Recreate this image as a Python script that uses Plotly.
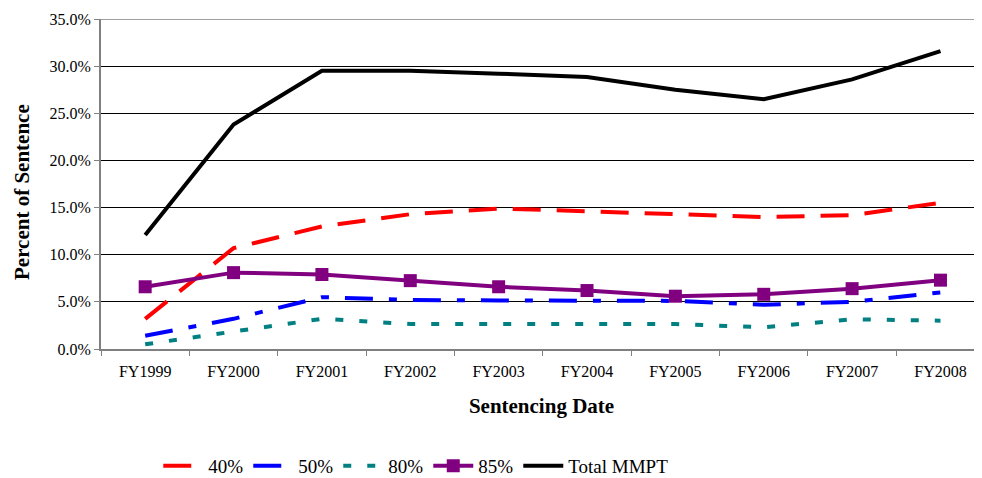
import plotly.graph_objects as go

years = ["FY1999", "FY2000", "FY2001", "FY2002", "FY2003", "FY2004", "FY2005", "FY2006", "FY2007", "FY2008"]
tick_labels = ["FY1999", "FY2000", "FY2001", "FY2002", "FY2003", "FY2004", "FY2005", "FY2006", "FY2007", "FY2008"]
pct40 = [0.032, 0.107, 0.130, 0.143, 0.149, 0.146, 0.142, 0.140, 0.142, 0.155]
pct50 = [0.014, 0.032, 0.055, 0.052, 0.0515, 0.051, 0.051, 0.047, 0.050, 0.060]
pct80 = [0.005, 0.018, 0.032, 0.0265, 0.0265, 0.0265, 0.0265, 0.023, 0.0315, 0.030]
pct85 = [0.066, 0.081, 0.079, 0.0725, 0.066, 0.062, 0.056, 0.058, 0.064, 0.073]
total = [0.121, 0.238, 0.295, 0.295, 0.292, 0.2885, 0.275, 0.265, 0.286, 0.316]

FONT = "Liberation Serif, Times New Roman, serif"

fig = go.Figure()
fig.add_trace(go.Scatter(x=years, y=pct40, name="40%", mode="lines",
                         line=dict(color="#FF0000", width=4, dash="28px,16px")))
fig.add_trace(go.Scatter(x=years, y=pct50, name="50%", mode="lines",
                         line=dict(color="#0000FF", width=4, dash="28px,16px,8px,16px")))
fig.add_trace(go.Scatter(x=years, y=pct80, name="80%", mode="lines",
                         line=dict(color="#008080", width=4, dash="8px,16px")))
fig.add_trace(go.Scatter(x=years, y=pct85, name="85%", mode="lines+markers",
                         line=dict(color="#800080", width=4),
                         marker=dict(symbol="square", size=13, color="#800080")))
fig.add_trace(go.Scatter(x=years, y=total, name="Total MMPT", mode="lines",
                         line=dict(color="#000000", width=4)))

fig.update_layout(
    width=974, height=470,
    margin=dict(l=93, r=0, t=11, b=129, autoexpand=False),
    paper_bgcolor="white", plot_bgcolor="white",
    font=dict(family=FONT, color="#000000"),
    showlegend=True,
    legend=dict(orientation="h", x=0.065, xanchor="left", y=-0.3545, yanchor="middle",
                font=dict(family=FONT, size=19), bgcolor="rgba(0,0,0,0)",
                itemwidth=40, tracegroupgap=0),
    xaxis=dict(type="category", categoryorder="array", categoryarray=years,
               tickvals=years, ticktext=tick_labels, automargin=False,
               range=[-0.5, 9.47], showgrid=False, zeroline=False,
               showline=True, linecolor="#808080", linewidth=2, mirror=False,
               ticks="outside", tickson="boundaries", ticklen=5, tickcolor="#808080", tickwidth=1,
               ticklabelstandoff=7,
               tickfont=dict(family=FONT, size=16),
               title=dict(text="<b>Sentencing Date</b>", font=dict(family=FONT, size=21), standoff=19)),
    yaxis=dict(range=[0, 0.35], dtick=0.05, tickformat=".1%", automargin=False,
               showgrid=True, gridcolor="#000000", gridwidth=1, zeroline=False,
               showline=True, linecolor="#808080", linewidth=2,
               ticks="outside", ticklen=5, tickcolor="#808080", tickwidth=1,
               tickfont=dict(family=FONT, size=16)),
    shapes=[dict(type="line", xref="paper", yref="y", x0=0, x1=1, y0=0.35, y1=0.35,
                 line=dict(color="#a0a0a0", width=2), layer="above")],
    annotations=[dict(text="<b>Percent of Sentence</b>", xref="paper", yref="paper",
                      x=(22 - 101) / 881, y=(349 - 192) / 330, xanchor="center", yanchor="middle",
                      textangle=-90, showarrow=False, font=dict(family=FONT, size=21))],
)

fig.write_html("out.html")
